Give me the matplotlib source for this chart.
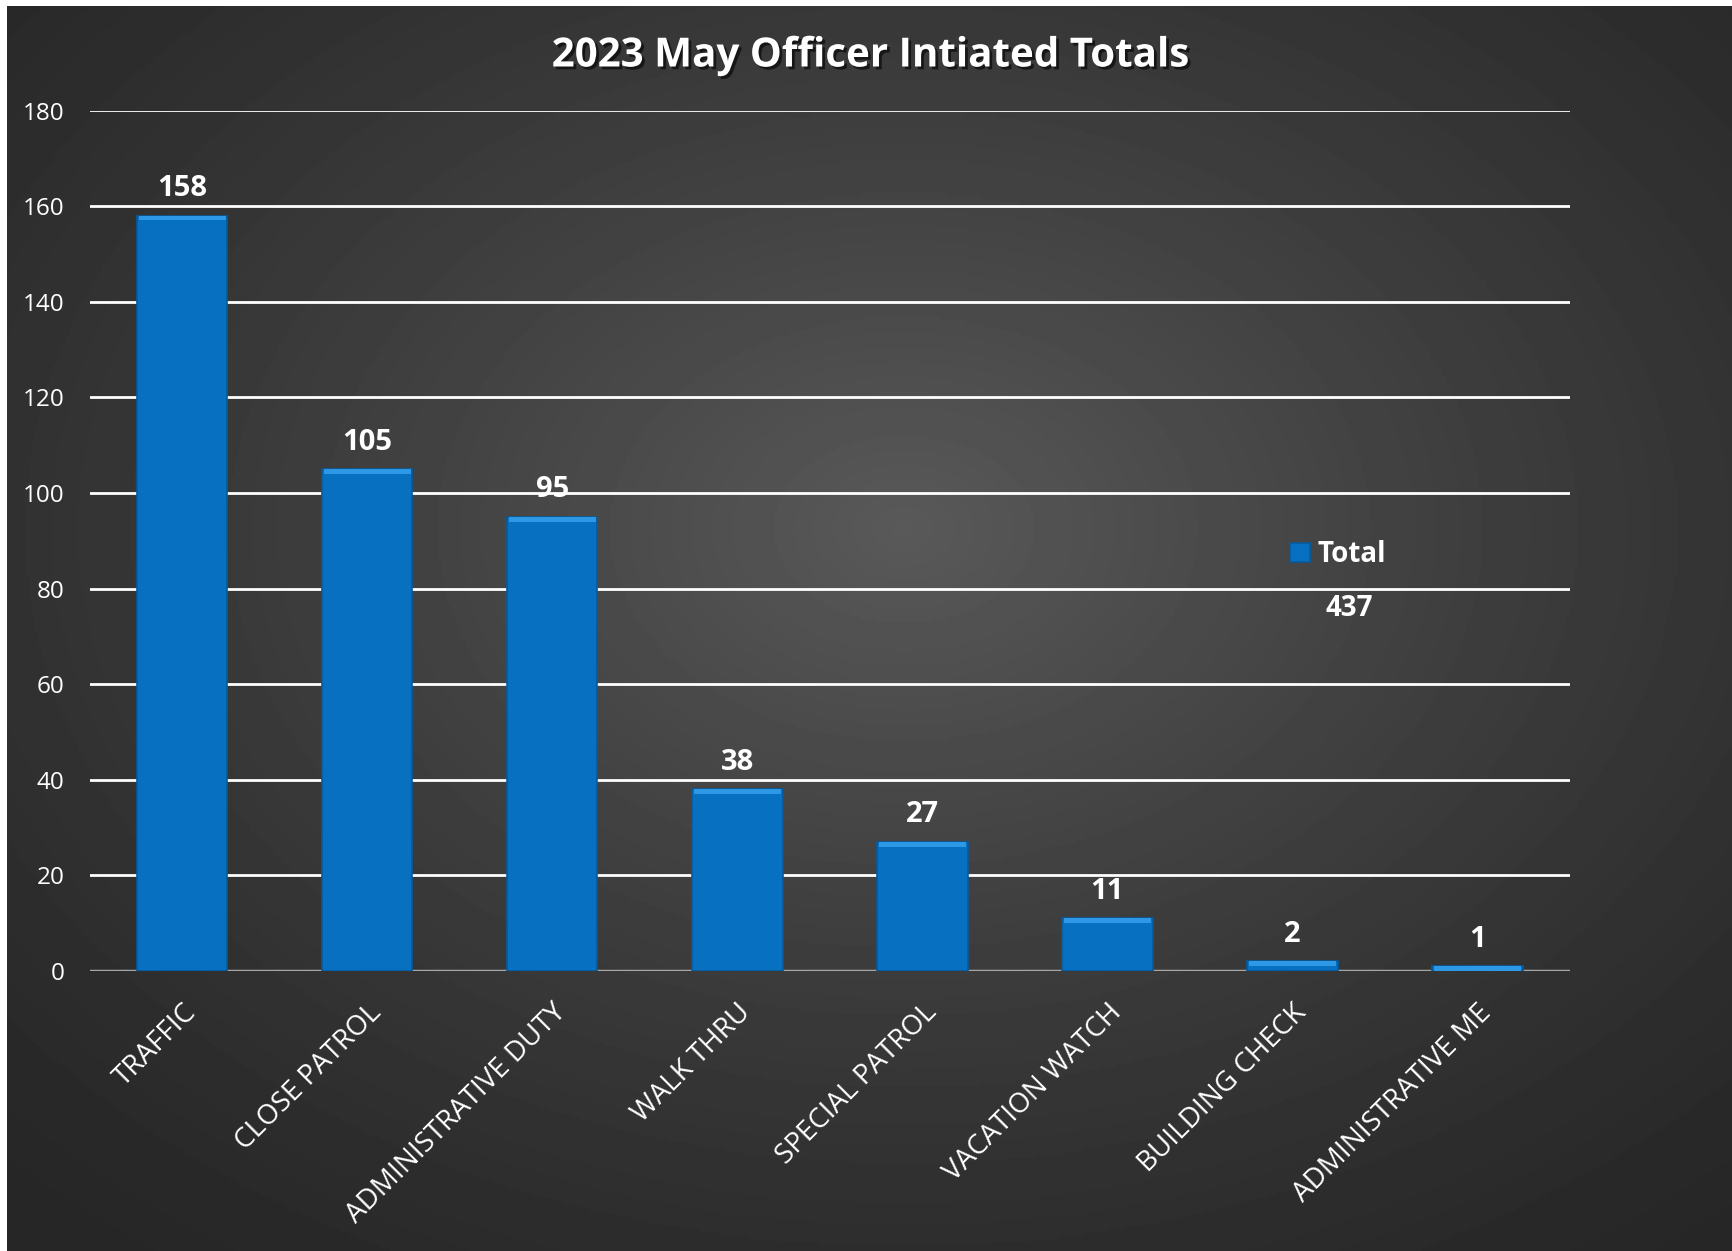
import numpy as np
import matplotlib.pyplot as plt
import matplotlib.patheffects as pe

plt.rcParams['font.family'] = ['Open Sans', 'DejaVu Sans']

# data
categories = ["TRAFFIC", "CLOSE PATROL", "ADMINISTRATIVE DUTY", "WALK THRU",
              "SPECIAL PATROL", "VACATION WATCH", "BUILDING CHECK", "ADMINISTRATIVE ME"]
totals = [158, 105, 95, 38, 27, 11, 2, 1]
grand_total = sum(totals)

W, H = 1732, 1251
fig = plt.figure(figsize=(W / 100, H / 100), dpi=100, facecolor="white")

# radial gradient background (dark edges, lighter centre)
bg = fig.add_axes([7 / W, 0, 1 - 7 / W, 1 - 6 / H])
yy, xx = np.mgrid[0:1:400j, 0:1:560j]
r = np.sqrt(((xx - 0.52) / 0.75) ** 2 + ((yy - 0.42) / 0.75) ** 2)
shade = np.clip(1 - r, 0, 1) ** 1.3
img = 0.15 + 0.2 * shade
bg.imshow(img, cmap="gray", vmin=0, vmax=1, aspect="auto", extent=[0, 1, 1, 0])
bg.set_axis_off()

ax = fig.add_axes([89.5 / W, 1 - 971 / H, (1570 - 89.5) / W, (971 - 110.5) / H])
ax.patch.set_alpha(0)

x = np.arange(len(categories))
bars = ax.bar(x, totals, width=0.49, color="#0870c0", edgecolor="#075a9c",
              linewidth=1.2, zorder=3, label="Total")
# light bevel on bar tops
ax.bar(x, [min(v, 1.0) for v in totals], width=0.47,
       bottom=[v - min(v, 1.0) for v in totals], color="#2c98e6",
       linewidth=0, zorder=4)

for xi, v in zip(x, totals):
    ax.annotate(str(v), (xi, v), xytext=(0, 9), textcoords="offset points",
                ha="center", va="bottom", color="white", fontsize=21,
                fontweight="bold", zorder=5)

ax.set_xlim(-0.5, len(categories) - 0.5)
ax.set_ylim(0, 180)
ax.set_yticks(range(0, 181, 20))
ax.yaxis.grid(True, color="white", linewidth=2, zorder=0)
ax.set_axisbelow(True)
for s in ax.spines.values():
    s.set_visible(False)
ax.axhline(0, color="#a6a6a6", linewidth=2.5, zorder=2)
ax.tick_params(axis="both", length=0, colors="white")
ax.tick_params(axis="y", pad=18, labelsize=17.5)
ax.set_xticks(x)
ax.set_xticklabels(categories, rotation=45, ha="right", rotation_mode="anchor",
                   fontsize=20, color="white")
ax.tick_params(axis="x", pad=20)

leg = ax.legend(loc="center left", bbox_to_anchor=(0.811, 0.484), frameon=False,
                handlelength=0.7, handleheight=0.7, handletextpad=0.3,
                borderaxespad=0, borderpad=0,
                prop={"weight": "bold", "size": 20})
for t in leg.get_texts():
    t.set_color("white")
ax.text(0.851, 0.421, str(grand_total), transform=ax.transAxes, ha="center",
        va="center", color="white", fontsize=20, fontweight="bold")

fig.text(870 / W, 1 - 56 / H, "2023 May Officer Intiated Totals", ha="center",
         va="center", color="white", fontsize=29, fontweight="bold",
         path_effects=[pe.withSimplePatchShadow(offset=(2, -2), shadow_rgbFace="black", alpha=0.6)])

fig.savefig("out.png", dpi=100, facecolor="white")
